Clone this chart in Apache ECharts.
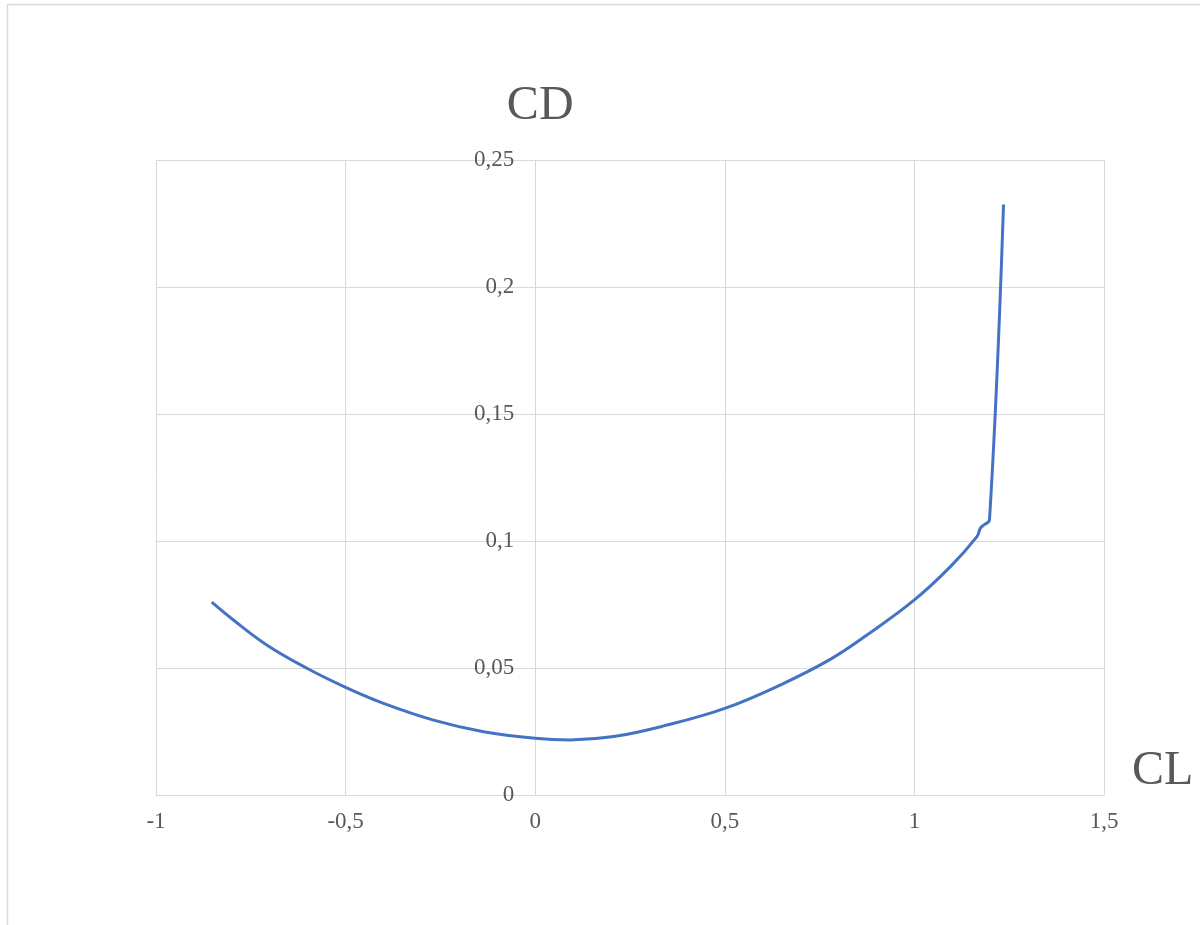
<!DOCTYPE html>
<html>
<head>
<meta charset="utf-8">
<title>CD – CL</title>
<script src="https://cdn.jsdelivr.net/npm/echarts@6/dist/echarts.min.js"></script>
<style>
  html, body { margin: 0; padding: 0; background: #ffffff; }
  #chart { width: 1200px; height: 925px; }
</style>
</head>
<body>
<div id="chart"></div>
<script>
// Drag polar: lift coefficient (CL) against drag coefficient (CD)
const liftCoef = [-0.853, -0.796, -0.708, -0.602, -0.500, -0.400, -0.268, -0.136, 0.000,
                  0.092, 0.207, 0.339, 0.500, 0.646, 0.778, 0.875, 1.000, 1.095,
                  1.165, 1.174, 1.183, 1.198, 1.235];
const dragCoef = [0.0759, 0.0689, 0.0591, 0.0499, 0.0424, 0.0361, 0.0295, 0.0249, 0.0223,
                  0.0217, 0.0230, 0.0272, 0.0341, 0.0433, 0.0534, 0.0630, 0.0768, 0.0899,
                  0.1017, 0.1050, 0.1063, 0.1083, 0.2325];

const xTicks = { min: -1, max: 1.5, step: 0.5 };
const yTicks = { min: 0, max: 0.25, step: 0.05 };

const FONT = '"Liberation Serif", "Times New Roman", serif';
const TEXT = '#595959';
const GRID = '#d9d9d9';

const GRID_LEFT = 156, GRID_RIGHT = 96, GRID_TOP = 160, GRID_BOTTOM = 130;
const PLOT_W = 1200 - GRID_LEFT - GRID_RIGHT;
// the CD axis crosses the CL axis at CL = 0
const yAxisShift = PLOT_W * (0 - xTicks.min) / (xTicks.max - xTicks.min);

const decimalComma = v => String(+v.toFixed(3)).replace('.', ',');

const chart = echarts.init(document.getElementById('chart'), null, { renderer: 'canvas' });

chart.setOption({
  backgroundColor: '#ffffff',
  animation: false,
  graphic: [{
    type: 'rect',
    shape: { x: 7.5, y: 4.5, width: 1300, height: 1000 },
    style: { fill: null, stroke: GRID, lineWidth: 1.5 },
    silent: true
  }],
  grid: { left: GRID_LEFT, right: GRID_RIGHT, top: GRID_TOP, bottom: GRID_BOTTOM, containLabel: false },
  xAxis: {
    type: 'value',
    min: xTicks.min, max: xTicks.max, interval: xTicks.step,
    name: 'CL',
    nameLocation: 'end',
    nameGap: 28,
    nameTextStyle: { fontFamily: FONT, fontSize: 48, color: TEXT, verticalAlign: 'bottom' },
    axisLine: { show: true, onZero: false, lineStyle: { color: GRID, width: 1 } },
    axisTick: { show: false },
    axisLabel: { fontFamily: FONT, fontSize: 23, color: TEXT, margin: 15, formatter: decimalComma },
    splitLine: { show: true, lineStyle: { color: GRID, width: 1 } }
  },
  yAxis: {
    type: 'value',
    position: 'left',
    offset: -yAxisShift,
    min: yTicks.min, max: yTicks.max, interval: yTicks.step,
    name: 'CD',
    nameLocation: 'end',
    nameGap: 30,
    nameTextStyle: { fontFamily: FONT, fontSize: 48, color: TEXT, align: 'center', padding: [0, 0, 0, 10] },
    axisLine: { show: true, onZero: false, lineStyle: { color: GRID, width: 1 } },
    axisTick: { show: false },
    axisLabel: { fontFamily: FONT, fontSize: 23, color: TEXT, margin: 21, formatter: decimalComma },
    splitLine: { show: true, lineStyle: { color: GRID, width: 1 } }
  },
  series: [{
    type: 'line',
    data: liftCoef.map((cl, i) => [cl, dragCoef[i]]),
    showSymbol: false,
    smooth: 0.4,
    lineStyle: { color: '#4472C4', width: 3 },
    itemStyle: { color: '#4472C4' }
  }]
});
</script>
</body>
</html>
